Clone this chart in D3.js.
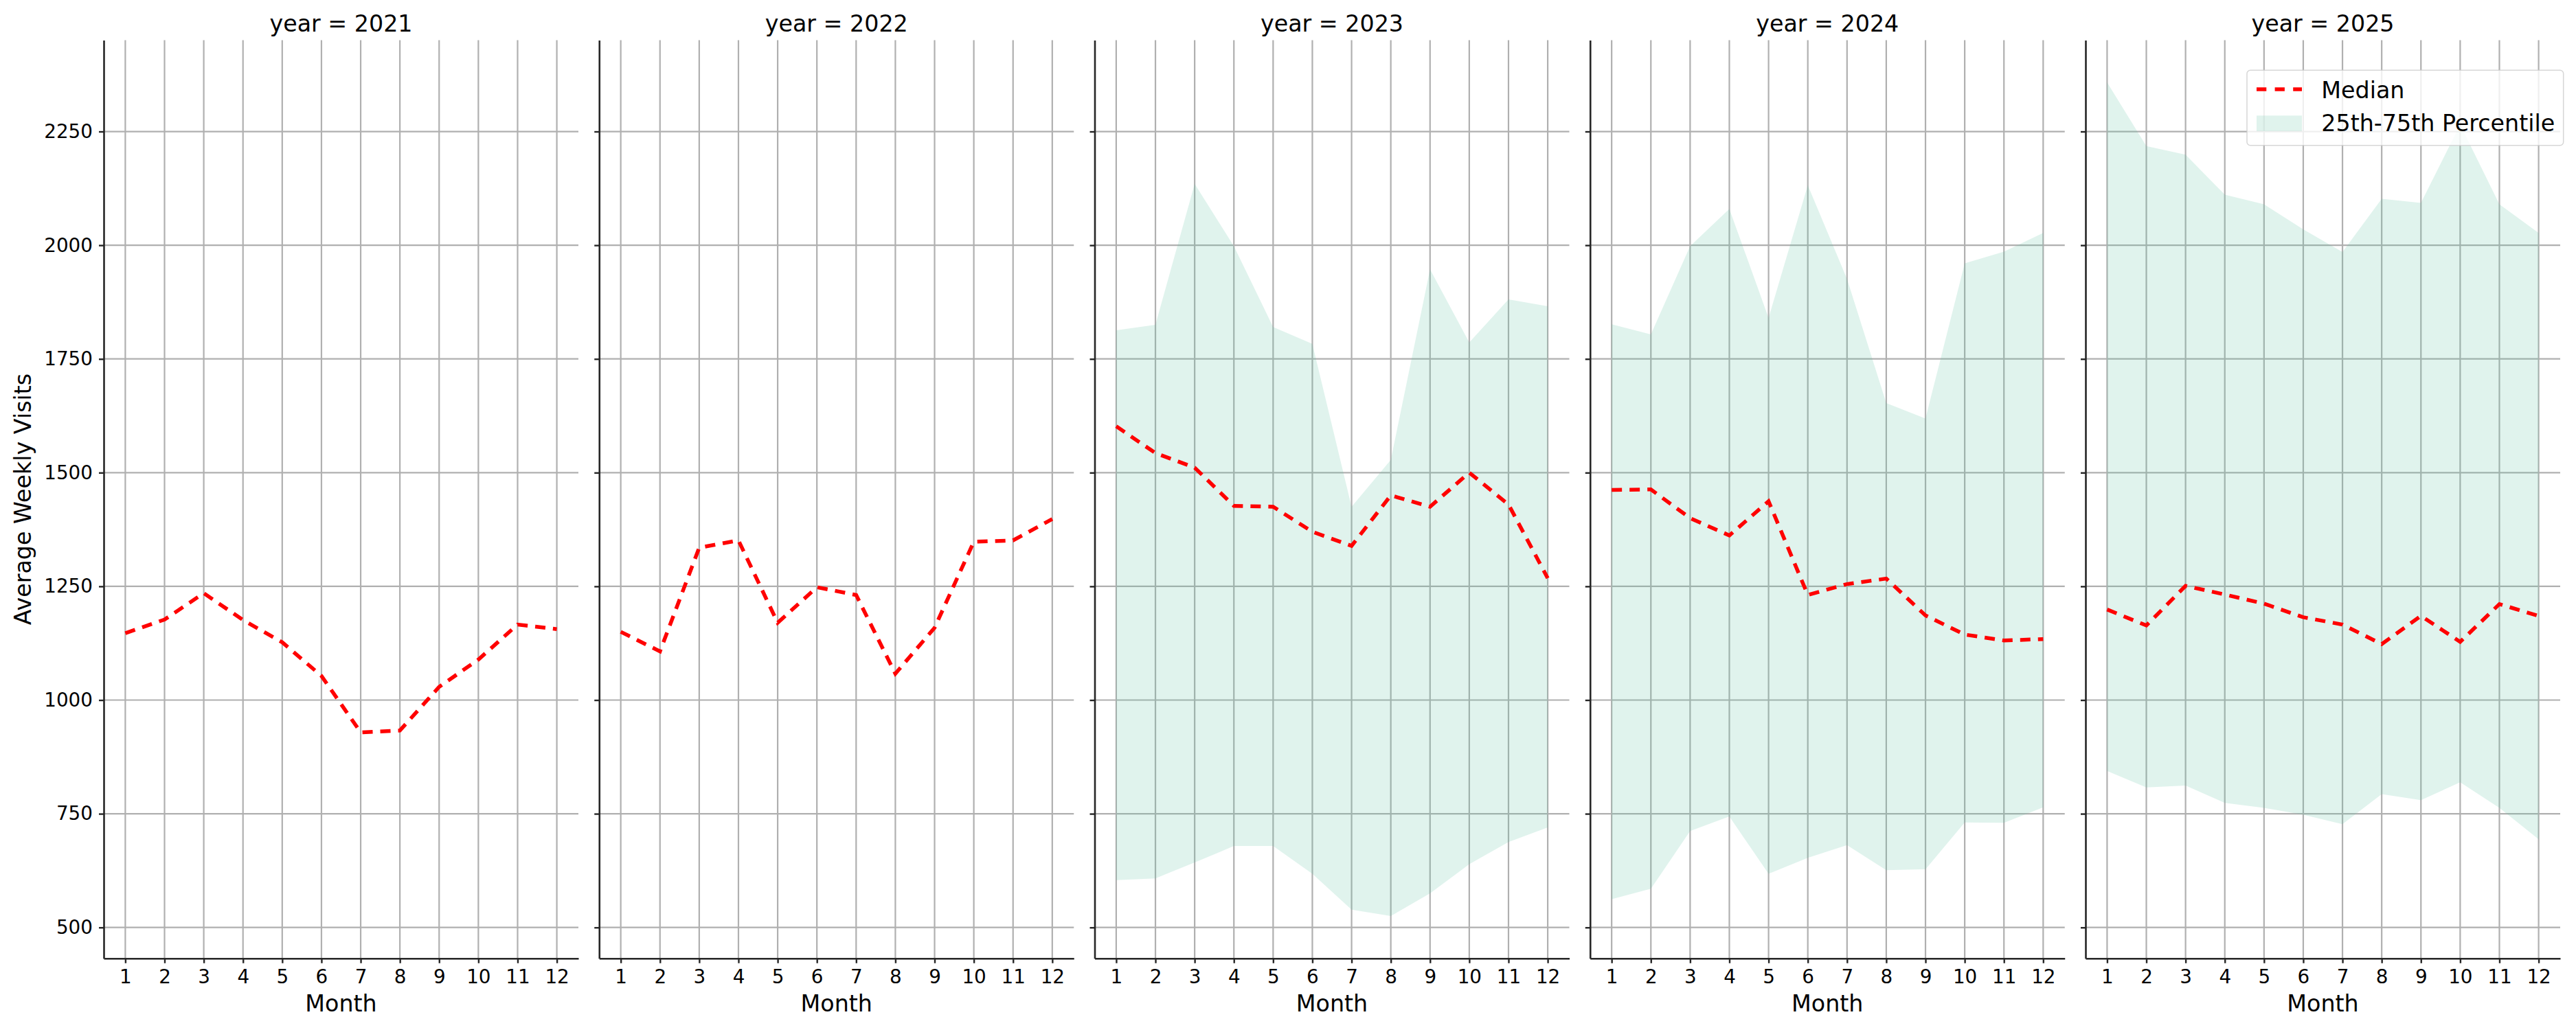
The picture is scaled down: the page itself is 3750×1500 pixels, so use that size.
<!DOCTYPE html>
<html>
<head>
<meta charset="utf-8">
<script src="https://cdn.jsdelivr.net/npm/d3@7"></script>
<style>
  body { margin: 0; background: #fff; }
  svg { display: block; }
  text { font-family: "DejaVu Sans", sans-serif; }
</style>
</head>
<body>
<svg id="chart"></svg>
<script>
// --- data ---
const years = [2021, 2022, 2023, 2024, 2025];
const months = [1, 2, 3, 4, 5, 6, 7, 8, 9, 10, 11, 12];
const yTicks = [500, 750, 1000, 1250, 1500, 1750, 2000, 2250];

const median2021 = [1147, 1177, 1235, 1176, 1127, 1053, 929, 933, 1029, 1089, 1166, 1156];
const median2022 = [1150, 1107, 1335, 1351, 1170, 1248, 1231, 1058, 1159, 1348, 1351, 1398];
const median2023 = [1602, 1543, 1511, 1427, 1425, 1370, 1339, 1450, 1425, 1500, 1430, 1268];
const median2024 = [1462, 1463, 1400, 1362, 1437, 1231, 1255, 1267, 1186, 1144, 1131, 1134];
const median2025 = [1199, 1164, 1251, 1232, 1212, 1182, 1166, 1123, 1185, 1128, 1211, 1185];

// 25th / 75th percentile (no band for 2021 and 2022)
const p25_2023 = [604, 608, 643, 679, 679, 618, 539, 525, 575, 639, 688, 720];
const p75_2023 = [1813, 1825, 2135, 1998, 1820, 1783, 1425, 1528, 1947, 1786, 1881, 1866];
const p25_2024 = [562, 585, 712, 744, 618, 653, 681, 626, 628, 731, 730, 764];
const p75_2024 = [1826, 1804, 1998, 2080, 1840, 2132, 1926, 1653, 1619, 1960, 1986, 2027];
const p25_2025 = [844, 808, 812, 774, 763, 748, 727, 793, 780, 819, 763, 694];
const p75_2025 = [2358, 2218, 2199, 2111, 2090, 2035, 1985, 2102, 2093, 2265, 2090, 2027];

const medians = [median2021, median2022, median2023, median2024, median2025];
const lows = [null, null, p25_2023, p25_2024, p25_2025];
const highs = [null, null, p75_2023, p75_2024, p75_2025];

// --- layout ---
const W = 3750, H = 1500;
const firstLeft = 151, panelStep = 721.25, panelW = 691;
const plotTop = 58.4, plotBottom = 1395.7;
const fontTick = 27.8, fontLabel = 33.3;

const svg = d3.select("#chart").attr("width", W).attr("height", H);

const x = d3.scaleLinear().domain([0.45, 12.55]).range([0, panelW]);
const y = d3.scaleLinear().domain([432, 2451]).range([plotBottom, plotTop]);

const line = d3.line().x(d => x(d.m)).y(d => y(d.v));
const area = d3.area().x(d => x(d.m)).y0(d => y(d.lo)).y1(d => y(d.hi));

years.forEach((yr, i) => {
    const g = svg.append("g").attr("transform", `translate(${firstLeft + i * panelStep},0)`);

    // grid below everything
    g.append("g").selectAll("line.hg").data(yTicks).enter().append("line")
        .attr("x1", 0).attr("x2", panelW)
        .attr("y1", d => y(d)).attr("y2", d => y(d))
        .attr("stroke", "#b0b0b0").attr("stroke-width", 2.2);
    g.append("g").selectAll("line.vg").data(months).enter().append("line")
        .attr("x1", d => x(d)).attr("x2", d => x(d))
        .attr("y1", plotTop).attr("y2", plotBottom)
        .attr("stroke", "#b0b0b0").attr("stroke-width", 2.2);

    // percentile band
    if (lows[i]) {
        const band = months.map((m, k) => ({m: m, lo: lows[i][k], hi: highs[i][k]}));
        g.append("path").datum(band)
            .attr("d", area)
            .attr("fill", "#66c2a5").attr("fill-opacity", 0.2);
    }

    // median line
    const pts = months.map((m, k) => ({m: m, v: medians[i][k]}));
    g.append("path").datum(pts)
        .attr("d", line)
        .attr("fill", "none")
        .attr("stroke", "#ff0000")
        .attr("stroke-width", 5.5)
        .attr("stroke-dasharray", "15,11");

    // axes
    const xAxis = g.append("g").attr("transform", `translate(0,${plotBottom})`)
        .call(d3.axisBottom(x).tickValues(months).tickSize(7).tickSizeOuter(0).tickPadding(10));
    const yAxis = g.append("g")
        .call(d3.axisLeft(y).tickValues(yTicks).tickSize(7).tickSizeOuter(0).tickPadding(9)
            .tickFormat(i === 0 ? d3.format("d") : () => ""));

    [xAxis, yAxis].forEach(ax => {
        ax.select(".domain").attr("stroke", "#262626").attr("stroke-width", 2.6);
        ax.selectAll(".tick line").attr("stroke", "#262626").attr("stroke-width", 2.4);
        ax.selectAll(".tick text")
            .attr("fill", "#000")
            .style("font-size", fontTick + "px")
            .style("font-family", "'DejaVu Sans', sans-serif");
    });

    // title and x label
    g.append("text")
        .attr("x", panelW / 2).attr("y", 46)
        .attr("text-anchor", "middle")
        .style("font-size", fontLabel + "px")
        .text(`year = ${yr}`);
    g.append("text")
        .attr("x", panelW / 2).attr("y", 1473.3)
        .attr("text-anchor", "middle")
        .style("font-size", fontLabel + "px")
        .text("Month");
});

// y label
svg.append("text")
    .attr("transform", `translate(45,${(plotTop + plotBottom) / 2}) rotate(-90)`)
    .attr("text-anchor", "middle")
    .style("font-size", fontLabel + "px")
    .text("Average Weekly Visits");

// legend
const legend = svg.append("g").attr("transform", "translate(3271,102.3)");
legend.append("rect")
    .attr("width", 460.7).attr("height", 109.4).attr("rx", 5)
    .attr("fill", "#fff").attr("fill-opacity", 0.8)
    .attr("stroke", "#cccccc").attr("stroke-opacity", 0.8).attr("stroke-width", 1.5);
legend.append("line")
    .attr("x1", 14).attr("x2", 80).attr("y1", 27.7).attr("y2", 27.7)
    .attr("stroke", "#ff0000").attr("stroke-width", 5.5).attr("stroke-dasharray", "14.3,12.3");
legend.append("rect")
    .attr("x", 14).attr("y", 66).attr("width", 66).attr("height", 22.7)
    .attr("fill", "#66c2a5").attr("fill-opacity", 0.2);
legend.append("text").attr("x", 108.3).attr("y", 40.4)
    .style("font-size", fontLabel + "px").text("Median");
legend.append("text").attr("x", 108.3).attr("y", 88.7)
    .style("font-size", fontLabel + "px").text("25th-75th Percentile");
</script>
</body>
</html>
